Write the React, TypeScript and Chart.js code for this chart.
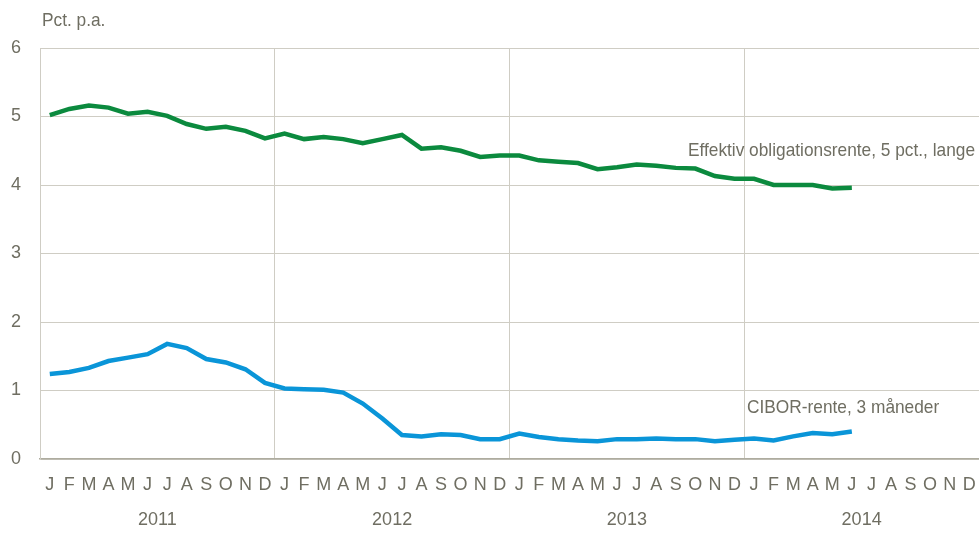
import React, { useEffect, useRef } from "react";
import { Chart, registerables } from "chart.js";

Chart.register(...registerables);

const monthLetters = ["J", "F", "M", "A", "M", "J", "J", "A", "S", "O", "N", "D"];
const years = ["2011", "2012", "2013", "2014"];
const months: string[] = years.flatMap(() => monthLetters);

// Jan 2011 - Jun 2014
const obligationsrente = [
  5.02, 5.11, 5.16, 5.13, 5.04, 5.07, 5.01, 4.89, 4.82, 4.85, 4.79, 4.68,
  4.75, 4.67, 4.70, 4.67, 4.61, 4.67, 4.73, 4.53, 4.55, 4.50, 4.41, 4.43,
  4.43, 4.36, 4.34, 4.32, 4.23, 4.26, 4.30, 4.28, 4.25, 4.24, 4.13, 4.09,
  4.09, 4.00, 4.00, 4.00, 3.95, 3.96,
];
const cibor = [
  1.24, 1.27, 1.33, 1.43, 1.48, 1.53, 1.68, 1.62, 1.46, 1.41, 1.31, 1.11,
  1.03, 1.02, 1.01, 0.97, 0.81, 0.59, 0.35, 0.33, 0.36, 0.35, 0.29, 0.29,
  0.37, 0.32, 0.29, 0.27, 0.26, 0.29, 0.29, 0.30, 0.29, 0.29, 0.26, 0.28,
  0.30, 0.27, 0.33, 0.38, 0.36, 0.40,
];
const yTicks = [0, 1, 2, 3, 4, 5, 6];

const unitLabel = "Pct. p.a.";
const obligLabel = "Effektiv obligationsrente, 5 pct., lange";
const ciborLabel = "CIBOR-rente, 3 måneder";

const GREEN = "#0b8a3e";
const BLUE = "#0a95d8";
const TEXT = "#6f6e62";
const GRID = "#cfcdc4";
const AXIS = "#aeac9f";
const FONT = "'Liberation Sans Narrow', 'Liberation Sans', Arial, sans-serif";

function narrowText(ctx: any, text: string, x: number, y: number, align: "left" | "right") {
  const sx = 0.91;
  ctx.save();
  ctx.translate(x, y);
  ctx.scale(sx, 1);
  ctx.textAlign = align;
  ctx.fillText(text, 0, 0);
  ctx.restore();
}

const labelsPlugin = {
  id: "seriesLabels",
  afterDraw(chart: any) {
    const { ctx, chartArea, scales } = chart;
    const x = scales.x;
    const y = scales.y;
    ctx.save();
    ctx.fillStyle = TEXT;
    ctx.font = `19px ${FONT}`;
    ctx.textBaseline = "middle";
    narrowText(ctx, unitLabel, chartArea.left + 2, 21, "left");
    narrowText(ctx, obligLabel, chartArea.right - 4, y.getPixelForValue(4.5), "right");
    narrowText(ctx, ciborLabel, x.getPixelForValue(36) - 7, y.getPixelForValue(0.75), "left");
    ctx.restore();
  },
};

export default function App() {
  const ref = useRef<HTMLCanvasElement | null>(null);
  useEffect(() => {
    if (!ref.current) return;
    const chart = new Chart(ref.current, {
      type: "line",
      data: {
        labels: months,
        datasets: [
          {
            label: obligLabel,
            data: obligationsrente,
            borderColor: GREEN,
            backgroundColor: GREEN,
            borderWidth: 4.5,
            pointRadius: 0,
            tension: 0,
            xAxisID: "x",
          },
          {
            label: ciborLabel,
            data: cibor,
            borderColor: BLUE,
            backgroundColor: BLUE,
            borderWidth: 4.5,
            pointRadius: 0,
            tension: 0,
            xAxisID: "x",
          },
        ],
      },
      options: {
        responsive: false,
        animation: false,
        layout: { padding: { top: 48, right: 0, left: 0, bottom: 0 } },
        plugins: {
          legend: { display: false },
          tooltip: { enabled: false },
        },
        scales: {
          x: {
            type: "category",
            offset: true,
            grid: {
              offset: true,
              drawTicks: false,
              color: (c: any) => (c.index % 12 === 0 && c.index < 48 ? GRID : "rgba(0,0,0,0)"),
              lineWidth: 1,
            },
            border: { color: AXIS, width: 1.5 },
            ticks: {
              autoSkip: false,
              maxRotation: 0,
              color: TEXT,
              font: { family: FONT, size: 18 },
              padding: 15,
            },
            afterFit: (s: any) => {
              s.height = 42;
              s.paddingRight = 0;
              s.paddingLeft = 0;
            },
          },
          x2: {
            type: "category",
            position: "bottom",
            labels: years,
            offset: true,
            grid: { display: false, drawTicks: false },
            border: { display: false },
            ticks: {
              color: TEXT,
              font: { family: FONT, size: 18 },
              padding: 8,
              maxRotation: 0,
            },
            afterFit: (s: any) => {
              s.height = 34;
              s.paddingRight = 0;
              s.paddingLeft = 0;
            },
          },
          y: {
            min: 0,
            max: 6,
            afterBuildTicks: (s: any) => {
              s.ticks = yTicks.map((v) => ({ value: v }));
            },
            grid: { color: GRID, drawTicks: false, lineWidth: 1 },
            border: { color: GRID, width: 1 },
            ticks: {
              color: TEXT,
              font: { family: FONT, size: 18 },
              padding: 19,
            },
            afterFit: (s: any) => {
              s.width = 40;
              s.paddingTop = 0;
              s.paddingBottom = 0;
            },
          },
        },
      },
      plugins: [labelsPlugin],
    });
    return () => chart.destroy();
  }, []);
  return (
    <div style={{ position: "fixed", left: 0, top: 0, width: 979, height: 535, background: "#fff" }}>
      <canvas ref={ref} width={979} height={535} style={{ width: 979, height: 535 }} />
    </div>
  );
}
